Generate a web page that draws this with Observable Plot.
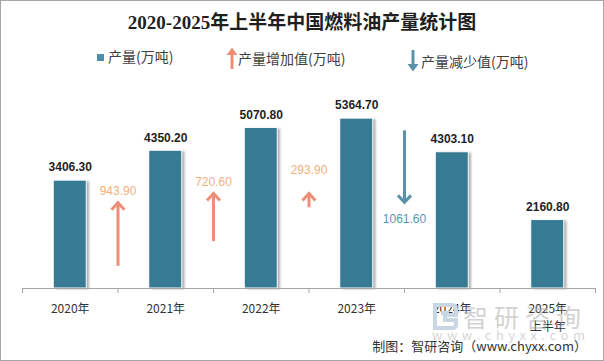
<!DOCTYPE html>
<html><head><meta charset="utf-8">
<script src="https://cdn.jsdelivr.net/npm/d3@7"></script>
<script src="https://cdn.jsdelivr.net/npm/@observablehq/plot@0.6"></script>
<style>
body{margin:0;background:#fff;}
#wrap{position:relative;width:604px;height:361px;overflow:hidden;font-family:"Noto Sans CJK SC",sans-serif;background:#fff;}
#frame{position:absolute;left:0;top:0;width:604px;height:361px;box-sizing:border-box;border:1px solid #a6a6a6;pointer-events:none;}
#chart{position:absolute;left:0;top:0;}
.t{position:absolute;white-space:nowrap;}
.lg{font-size:14px;color:#404040;line-height:20px;}
</style></head>
<body>
<div id="wrap">
  <div id="chart"></div>
  <div class="t" style="left:0;width:604px;top:10px;text-align:center;font-weight:bold;font-size:19px;font-family:'Liberation Serif','Noto Sans CJK SC',serif;color:#1f1f1f;line-height:26px">2020-2025年上半年中国燃料油产量统计图</div>
  <svg class="t" style="left:0;top:0" width="604" height="90">
    <rect x="97" y="54" width="7" height="7" fill="#4a8ea8"></rect>
    <line x1="232" y1="69" x2="232" y2="53" stroke="#ef8e78" stroke-width="3"></line>
    <path d="M226.5,55 L232,47.5 L237.5,55 Z" fill="#ef8e78"></path>
    <line x1="413" y1="50" x2="413" y2="66" stroke="#5b92aa" stroke-width="3"></line>
    <path d="M407.5,64 L413,71.5 L418.5,64 Z" fill="#5b92aa"></path>
  </svg>
  <div class="t lg" style="left:108px;top:46px">产量(万吨)</div>
  <div class="t lg" style="left:238px;top:48px">产量增加值(万吨)</div>
  <div class="t lg" style="left:421px;top:51px">产量减少值(万吨)</div>
  <svg class="t" style="left:431px;top:303px" width="30" height="27">
    <path d="M4,2 H21 Q25,2 25,6 V12 H14 V17 H25 V21 Q25,25 21,25 H4 Z" fill="none" stroke="#c9d6e4" stroke-width="4"></path>
    <rect x="10" y="8" width="8" height="4" fill="#c9d6e4"></rect>
  </svg>
  <div class="t" style="left:463px;top:300px;font-size:25px;letter-spacing:6px;line-height:32px;color:rgba(170,170,170,0.55)">智研咨询</div>
  <div class="t" style="left:432px;top:326px;width:153px;white-space:normal;text-align:justify;text-align-last:justify;font-size:13px;line-height:18px;color:rgba(170,170,170,0.5)">w w w . c h y x x . c o m</div>
  <div class="t" style="right:17px;top:336px;font-size:13px;line-height:20px;color:#333">制图：智研咨询（www.chyxx.com）</div>
  <div id="frame"></div>
</div>
<script>
// ---- data ----
const years = [2020, 2021, 2022, 2023, 2024, 2025];
const yearLabels = ["2020年", "2021年", "2022年", "2023年", "2024年", "2025年\n上半年"];
const output = [3406.3, 4350.2, 5070.8, 5364.7, 4303.1, 2160.8];
const changeAt = [2020.5, 2021.5, 2022.5, 2023.5];
const changes = [943.9, 720.6, 293.9, -1061.6];
const arrowFrom = [700, 1480, 2550, 4980];
const arrowTo = [2710, 3000, 3000, 2720];
const changeLabelAt = [3070, 3370, 3750, 2180];

const bars = years.map((y, i) => ({year: y, value: output[i]}));
const deltas = changeAt.map((x, i) => ({x, change: changes[i], from: arrowFrom[i], to: arrowTo[i], labelY: changeLabelAt[i], up: changes[i] > 0}));
const boundaries = d3.range(years[0] - 0.5, years[years.length - 1] + 1, 1);

const chevron = {
  draw(ctx, size) {
    const s = Math.sqrt(size / Math.PI);
    ctx.moveTo(-s * 0.93, s);
    ctx.lineTo(0, 0);
    ctx.lineTo(s * 0.93, s);
  }
};

const upColor = "#ef8e78", downColor = "#5b92aa";

const plot = Plot.plot({
  width: 604,
  height: 361,
  marginLeft: 22,
  marginRight: 9,
  marginTop: 98,
  marginBottom: 73,
  style: {fontFamily: "'Noto Sans CJK SC', sans-serif", background: "transparent"},
  x: {type: "linear", domain: [years[0] - 0.5, years[years.length - 1] + 0.5], axis: null},
  y: {domain: [0, 6000], axis: null},
  marks: [
    Plot.rectY(bars, {x1: d => d.year - 0.5, x2: d => d.year + 0.5, y: "value", insetLeft: 34, insetRight: 28.5, dy: 1, fill: "#6f6f6f", fillOpacity: 0.55}),
    Plot.rectY(bars, {x1: d => d.year - 0.5, x2: d => d.year + 0.5, y: "value", insetLeft: 31.25, insetRight: 31.25, fill: "#367a93", stroke: "white", strokeWidth: 1}),
    Plot.ruleY([0], {stroke: "#a6a6a6"}),
    Plot.axisX({ticks: boundaries, tickSize: 5, tickFormat: () => "", stroke: "#a6a6a6", label: null}),
    Plot.axisX({ticks: years, tickSize: 0, tickPadding: 12, tickFormat: d => yearLabels[years.indexOf(d)], fontSize: 12, fill: "#333", lineHeight: 1.5, lineAnchor: "top", label: null}),
    Plot.text(bars, {x: "year", y: "value", text: d => d.value.toFixed(2), dy: -13, fontSize: 12, fontWeight: "bold", fill: "#1f1f1f", fontFamily: "'Liberation Sans', sans-serif"}),
    Plot.ruleX(deltas, {x: "x", y1: "from", y2: "to", stroke: d => d.up ? upColor : downColor, strokeWidth: 3}),
    Plot.dot(deltas, {x: "x", y: "to", symbol: chevron, r: 7, fill: "none", stroke: d => d.up ? upColor : downColor, strokeWidth: 3, strokeLinejoin: "miter", rotate: d => d.up ? 0 : 180}),
    Plot.text(deltas, {x: "x", y: "labelY", text: d => Math.abs(d.change).toFixed(2), fontSize: 12, fill: d => d.up ? "#f4b07c" : "#5a93b8", fontFamily: "'Liberation Sans', sans-serif"})
  ]
});
document.getElementById("chart").appendChild(plot);

// soft shadow behind bars
const svg = d3.select(plot);
const defs = svg.insert("defs", ":first-child");
defs.append("filter").attr("id", "barShadow").attr("x", "-50%").attr("y", "-10%").attr("width", "200%").attr("height", "120%")
  .append("feGaussianBlur").attr("stdDeviation", 1.3);
const rectGroups = plot.querySelectorAll('g[aria-label="rect"]');
if (rectGroups.length) rectGroups[0].setAttribute("filter", "url(#barShadow)");
</script>
</body></html>
